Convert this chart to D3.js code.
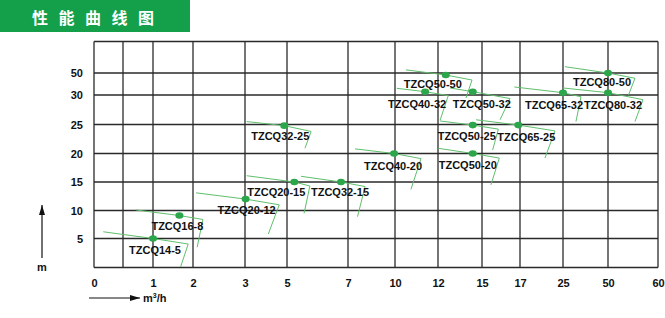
<!DOCTYPE html>
<html>
<head>
<meta charset="utf-8">
<script src="https://cdn.jsdelivr.net/npm/d3@7"></script>
<style>
  body { margin: 0; background: #fff; }
  svg { display: block; }
</style>
</head>
<body>
<div id="chart"></div>
<script>
// ticks along the (uneven) axes
const xTicks = [0, 1, 2, 3, 5, 7, 10, 12, 15, 17, 25, 50, 60];
const xGrid = [0, 0.5, 1, 2, 3, 5, 7, 10, 12, 15, 17, 25, 50, 60];
const yTicks = [5, 10, 15, 20, 25, 30, 50];
const yGrid = [0, 5, 10, 15, 20, 25, 30, 50, 60];

const pumps = [
  "TZCQ14-5", "TZCQ16-8", "TZCQ20-12", "TZCQ20-15", "TZCQ32-15", "TZCQ32-25",
  "TZCQ40-20", "TZCQ50-20", "TZCQ50-25", "TZCQ65-25", "TZCQ40-32", "TZCQ50-50",
  "TZCQ50-32", "TZCQ65-32", "TZCQ80-50", "TZCQ80-32"
];

// [flow, head] : curve start, rated point, curve end, drop-off end
const pumpCurves = [
  [[0.16, 6.2], [1, 5], [1.88, 4.05], [1.69, 0.1]],
  [[0.71, 10.1], [1.66, 9.1], [2.19, 8.4], [2.08, 3.5]],
  [[2.06, 13.1], [3.03, 12], [4.63, 11], [4.11, 5.8]],
  [[3.08, 16.1], [5.24, 15], [5.75, 14.3], [5.56, 9.5]],
  [[5.46, 16], [6.77, 15], [8.09, 14.2], [7.61, 8.9]],
  [[3.08, 25.5], [4.87, 24.8], [5.79, 23.8], [5.59, 20.9]],
  [[7.45, 20.8], [9.94, 20], [11.21, 19.1], [10.74, 13.7]],
  [[12.02, 20.9], [14.37, 20], [15.91, 19.2], [15.47, 14.5]],
  [[12.14, 25.6], [14.37, 24.9], [15.86, 24.2], [15.56, 20.6]],
  [[14.6, 25.8], [16.91, 24.9], [23.5, 23.9], [21.65, 19.2]],
  [[10.08, 36.1], [11.4, 33], [12.7, 29.9], [12.14, 25.7]],
  [[10.51, 51], [12.53, 48.2], [14.32, 43.6], [13.91, 29.5]],
  [[12.82, 36.4], [14.37, 33], [16.47, 29.4], [15.95, 25.8]],
  [[16.7, 37.3], [25, 32.1], [35, 29.7], [32.2, 25.5]],
  [[26.1, 52], [50, 50], [55.4, 45.2], [54.1, 30]],
  [[25, 36.4], [50, 32.1], [57, 29.2], [55.4, 25.5]]
];

// label position relative to the rated point (px)
const labelOffset = [
  [2, 11], [-2, 10], [1, 11], [-18, 10], [-1, 10], [-4, 10],
  [-1, 12], [-5, 11], [-6, 11], [8, 12], [-8, 12], [-13, 9],
  [9, 12], [-9, 12], [-6, 9], [5, 12]
];

const width = 665, height = 318;
const gTop = 41.5, gBottom = 267.5, gLeft = 94, gRight = 658;
const font = "'Liberation Sans', Arial, sans-serif";

const svg = d3.select("#chart").append("svg")
  .attr("width", width)
  .attr("height", height);

// header band
svg.append("rect")
  .attr("x", 0).attr("y", 0)
  .attr("width", 190).attr("height", 32)
  .attr("fill", "#14a04b");
svg.append("text")
  .attr("x", 32).attr("y", 24)
  .attr("fill", "#fff")
  .attr("font-family", "'Noto Sans CJK SC', sans-serif")
  .attr("font-weight", "bold")
  .attr("font-size", 16)
  .attr("letter-spacing", 10.5)
  .text("性能曲线图");

// piecewise scales, the chart axes are not linear
const x = d3.scaleLinear()
  .domain(xGrid)
  .range([94, 123, 153, 193, 245, 287, 348, 395, 438, 482, 520, 563, 608, 658]);
const y = d3.scaleLinear()
  .domain(yGrid)
  .range([267.5, 238.5, 210.5, 182, 153.5, 124.5, 95, 73, 41.5]);

// grid
const grid = svg.append("g")
  .attr("stroke", "#2a2a2a")
  .attr("stroke-width", 1.3);
grid.selectAll(".vx")
  .data(xGrid)
  .enter().append("line")
  .attr("x1", d => x(d)).attr("x2", d => x(d))
  .attr("y1", gTop).attr("y2", gBottom);
grid.selectAll(".hy")
  .data(yGrid)
  .enter().append("line")
  .attr("x1", gLeft).attr("x2", gRight)
  .attr("y1", d => y(d)).attr("y2", d => y(d));

// axis labels
const xAxis = svg.append("g")
  .attr("transform", "translate(0," + gBottom + ")")
  .call(d3.axisBottom(x).tickValues(xTicks).tickSize(0).tickPadding(12).tickFormat(d3.format("d")));
const yAxis = svg.append("g")
  .attr("transform", "translate(" + gLeft + ",0)")
  .call(d3.axisLeft(y).tickValues(yTicks).tickSize(0).tickPadding(11));
[xAxis, yAxis].forEach(a => {
  a.select(".domain").remove();
  a.selectAll("text")
    .attr("font-family", font)
    .attr("font-size", 11)
    .attr("font-weight", "bold")
    .attr("fill", "#111");
});

// axis arrows
svg.append("defs").append("marker")
  .attr("id", "arrow")
  .attr("viewBox", "0 0 10 6")
  .attr("refX", 10).attr("refY", 3)
  .attr("markerWidth", 10).attr("markerHeight", 6)
  .attr("markerUnits", "userSpaceOnUse")
  .attr("orient", "auto")
  .append("path")
  .attr("d", "M0,0L10,3L0,6Z")
  .attr("fill", "#111");
svg.append("line")
  .attr("x1", 89).attr("x2", 140)
  .attr("y1", 298).attr("y2", 298)
  .attr("stroke", "#111").attr("stroke-width", 1.2)
  .attr("marker-end", "url(#arrow)");
svg.append("line")
  .attr("x1", 42).attr("x2", 42)
  .attr("y1", 258).attr("y2", 205)
  .attr("stroke", "#111").attr("stroke-width", 1.2)
  .attr("marker-end", "url(#arrow)");

const unit = svg.append("text")
  .attr("x", 143).attr("y", 302)
  .attr("font-family", font).attr("font-size", 11).attr("font-weight", "bold")
  .attr("fill", "#111");
unit.append("tspan").text("m");
unit.append("tspan").attr("font-size", 7).attr("dy", -4).text("3");
unit.append("tspan").attr("dy", 4).text("/h");

svg.append("text")
  .attr("x", 42).attr("y", 271)
  .attr("text-anchor", "middle")
  .attr("font-family", font).attr("font-size", 11).attr("font-weight", "bold")
  .attr("fill", "#111")
  .text("m");

// pump curves
const line = d3.line()
  .x(d => x(d[0]))
  .y(d => y(d[1]));

svg.append("g").selectAll("path")
  .data(pumpCurves)
  .enter().append("path")
  .attr("d", line)
  .attr("fill", "none")
  .attr("stroke", "#5fbf6c")
  .attr("stroke-width", 1);

svg.append("g").selectAll("ellipse")
  .data(pumpCurves)
  .enter().append("ellipse")
  .attr("cx", d => x(d[1][0]))
  .attr("cy", d => y(d[1][1]))
  .attr("rx", 4).attr("ry", 3.3)
  .attr("fill", "#2ca64a");

svg.append("g").selectAll("text")
  .data(pumps)
  .enter().append("text")
  .attr("x", (d, i) => x(pumpCurves[i][1][0]) + labelOffset[i][0])
  .attr("y", (d, i) => y(pumpCurves[i][1][1]) + labelOffset[i][1] + 4)
  .attr("text-anchor", "middle")
  .attr("font-family", font)
  .attr("font-size", 11)
  .attr("font-weight", "bold")
  .attr("fill", "#111")
  .text(d => d);
</script>
</body>
</html>
